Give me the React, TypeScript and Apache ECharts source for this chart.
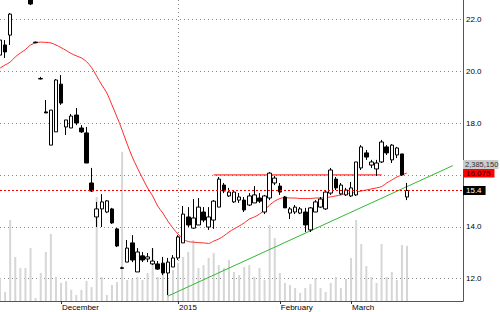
import { useEffect, useRef } from "react";
import * as echarts from "echarts";

// ---- data ----
const slotCount = 92; // trading-day slots on the category axis (last ones empty)
const categories: string[] = Array.from({ length: slotCount }, (_, i) => String(i));

const tickIndex = [12, 35, 55, 69];
const tickLabels = ["December", "2015", "February", "March"];

const open = [
  20.62, 21.01, 21.39, 22.9, 23.3, 23.5, 23.1, 21.1, 19.7, 18.43,
  17.15, 17.66, 19.5, 17.85, 17.81, 18.31, 17.81, 17.62, 15.69, 14.38,
  14.69, 14.57, 14.69, 13.92, 12.42, 12.64, 13.38, 12.26, 12.88, 12.76,
  12.57, 12.57, 12.6, 12.22, 12.45, 12.8, 13.38, 14.38, 13.95, 14.07,
  14.57, 13.99, 14.26, 14.76, 15.61, 15.19, 14.96, 15.03, 15.03, 14.84,
  14.92, 15.11, 14.57, 15.11, 15.69, 15.57, 15.15, 14.53, 14.57, 14.53,
  14.57, 13.88, 14.57, 14.76, 14.69, 15.3, 15.84, 15.27, 15.23, 15.19,
  15.23, 16.27, 16.85, 16.38, 16.23, 16.5, 17.08, 16.58, 16.77, 16.81,
  15.15,
];
const close = [
  21.2, 20.74, 22.2, 23.3, 23.6, 23.2, 22.59, 21.12, 19.72, 18.39,
  18.5, 19.66, 18.77, 18.12, 18.27, 18.0, 17.66, 16.46, 15.38, 14.69,
  14.96, 15.0, 14.15, 13.26, 12.4, 13.18, 12.72, 13.03, 12.72, 12.84,
  12.68, 12.37, 12.22, 12.64, 12.8, 13.61, 14.49, 14.07, 14.34, 14.76,
  14.26, 14.38, 14.99, 15.84, 15.38, 15.34, 15.34, 15.15, 14.65, 15.19,
  15.23, 14.99, 15.19, 16.07, 15.88, 15.34, 14.73, 14.69, 14.76, 14.69,
  14.07, 14.73, 14.96, 15.07, 15.34, 16.19, 15.5, 15.61, 15.42, 15.5,
  16.5, 17.08, 16.69, 16.5, 16.46, 17.27, 16.85, 17.15, 17.04, 16.0,
  15.4,
];
const low = [
  20.51, 20.51, 21.01, 22.8, 23.1, 23.0, 22.55, 21.08, 19.68, 18.39,
  17.15, 17.66, 18.7, 17.54, 17.81, 17.92, 17.62, 16.46, 15.34, 13.99,
  13.99, 14.53, 14.11, 13.22, 12.38, 12.64, 12.64, 12.26, 12.64, 12.64,
  12.53, 12.34, 12.14, 11.37, 12.45, 12.72, 13.38, 13.99, 13.92, 14.07,
  14.18, 13.88, 13.92, 14.76, 15.3, 15.15, 14.92, 14.92, 14.57, 14.8,
  14.92, 14.92, 14.49, 15.03, 15.61, 15.23, 14.73, 14.3, 14.49, 14.49,
  13.8, 13.8, 14.57, 14.73, 14.65, 15.23, 15.42, 15.23, 15.19, 15.15,
  15.19, 16.19, 16.58, 16.27, 15.96, 16.46, 16.77, 16.46, 16.65, 15.96,
  15.03,
];
const high = [
  21.28, 21.2, 22.24, 23.5, 23.8, 23.7, 23.3, 21.14, 19.78, 18.89,
  18.5, 19.7, 19.85, 18.12, 18.35, 18.58, 17.92, 17.85, 16.27, 14.96,
  15.26, 15.03, 14.73, 13.95, 12.46, 13.49, 13.68, 13.18, 13.03, 12.99,
  13.18, 12.68, 12.84, 12.8, 12.91, 13.68, 14.8, 14.76, 15.07, 15.11,
  14.76, 14.76, 15.03, 15.92, 15.69, 15.5, 15.42, 15.3, 15.15, 15.3,
  15.57, 15.3, 15.23, 16.11, 15.96, 15.69, 15.19, 14.76, 14.84, 14.76,
  14.73, 14.76, 15.03, 15.15, 15.42, 16.27, 15.92, 15.69, 15.5, 15.73,
  16.5, 17.15, 16.96, 16.58, 16.58, 17.35, 17.15, 17.19, 17.08, 16.81,
  15.69,
];
const movingAvg = [
  20.12, 20.24, 20.35, 20.55, 20.7, 20.83, 21.01, 21.09, 21.12, 21.11,
  21.09, 21.01, 20.91, 20.8, 20.68, 20.59, 20.51, 20.37, 20.14, 19.81,
  19.47, 19.16, 18.7, 18.23, 17.73, 17.19, 16.69, 16.27, 15.88, 15.5,
  15.19, 14.8, 14.53, 14.22, 13.95, 13.72, 13.53, 13.43, 13.41, 13.39,
  13.38, 13.36, 13.45, 13.53, 13.65, 13.8, 13.92, 14.03, 14.15, 14.3,
  14.38, 14.49, 14.65, 14.84, 14.99, 15.09, 15.13, 15.11, 15.11, 15.09,
  15.09, 15.09, 15.11, 15.11, 15.13, 15.15, 15.19, 15.23, 15.27, 15.3,
  15.34, 15.38, 15.42, 15.46, 15.5, 15.55, 15.69, 15.8, 15.92, 16.0,
  16.075,
];
const volume = [
  1000000, 390000, 3500000, 1900000, 1430000, 1430000, 2290000, 130000, 1210000, 2120000,
  2890000, 1040000, 780000, 860000, 480000, 260000, 480000, 860000, 600000, 4490000,
  1040000, 260000, 690000, 820000, 6440000, 910000, 950000, 1040000, 910000, 1210000,
  2290000, 1040000, 1210000, 910000, 1340000, 1640000, 1900000, 2120000, 2630000, 1430000,
  1550000, 1860000, 2070000, 1550000, 1430000, 1770000, 1250000, 1120000, 1470000, 1550000,
  1040000, 1430000, 910000, 3280000, 2720000, 1210000, 780000, 690000, 560000, 350000,
  560000, 730000, 990000, 560000, 390000, 780000, 1040000, 560000, 950000, 1860000,
  3500000, 2460000, 1510000, 1040000, 780000, 2460000, 1040000, 1250000, 910000, 2420000,
  2385150,
];

// drawn lines (slot index, price)
const resistance = [
  [42, 16.0],
  [75, 16.0],
];
const trendline = [
  [33, 11.33],
  [89, 16.36],
];

const FONT = "'Liberation Sans', Arial, sans-serif";

export default function App() {
  const ref = useRef<HTMLDivElement>(null);

  useEffect(() => {
    if (!ref.current) return;
    const chart = echarts.init(ref.current, undefined, { renderer: "svg" });

    const candles = open.map((o, i) => [o, close[i], low[i], high[i]]);
    const lastClose = close[close.length - 1];
    const lastMa = movingAvg[movingAvg.length - 1];
    const lastVol = volume[volume.length - 1];
    const isTick = (i: number) => tickIndex.indexOf(i) >= 0;
    const yearIdx = tickIndex[tickLabels.indexOf("2015")];

    const endLabel = (text: string, bg: string, fg: string, size = 8, pad = [1, 4, 0, 3]) => ({
      show: true,
      position: "end",
      distance: 0,
      formatter: text,
      color: fg,
      backgroundColor: bg,
      padding: pad,
      fontSize: size,
      lineHeight: 8,
      fontFamily: FONT,
    });
    const hidden = { color: "rgba(0,0,0,0)", width: 0, type: "solid" };
    const toPts = (pts: number[][]) => pts.map((p) => [String(p[0]), p[1]]);

    chart.setOption({
      animation: false,
      backgroundColor: "#ffffff",
      grid: { left: 0, right: 37, top: 0, bottom: 11, containLabel: false },
      xAxis: {
        type: "category",
        data: categories,
        boundaryGap: false,
        axisLine: { show: true, lineStyle: { color: "#555", width: 1 } },
        axisTick: {
          show: true,
          interval: (i: number) => isTick(i),
          length: 3,
          lineStyle: { color: "#333" },
        },
        axisLabel: {
          interval: (i: number) => isTick(i),
          formatter: (v: string) => {
            const k = tickIndex.indexOf(Number(v));
            return k >= 0 ? tickLabels[k] : "";
          },
          align: "left",
          margin: 2,
          padding: [0, 0, 0, 1],
          fontSize: 8,
          color: "#000",
          fontFamily: FONT,
        },
        splitLine: {
          show: true,
          interval: (i: number) => i === yearIdx,
          lineStyle: { color: "#888", type: [1, 3], width: 1 },
        },
      },
      yAxis: [
        {
          type: "value",
          position: "right",
          min: 11.14,
          max: 22.744,
          splitNumber: 5,
          axisLine: { show: true, lineStyle: { color: "#555", width: 1 } },
          axisTick: { show: false },
          axisLabel: {
            showMinLabel: false,
            showMaxLabel: false,
            formatter: (v: number) =>
              Math.abs(v - 16) < 1e-6 ? "" : v.toFixed(1),
            margin: 3,
            fontSize: 8,
            color: "#000",
            fontFamily: FONT,
          },
          splitLine: {
            show: true,
            showMinLine: false,
            showMaxLine: false,
            lineStyle: { color: "#888", type: [1, 3], width: 1 },
          },
        },
        {
          type: "value",
          min: 0,
          max: 13000000,
          show: false,
          splitLine: { show: false },
        },
      ],
      series: [
        {
          name: "Volume",
          type: "bar",
          yAxisIndex: 1,
          data: volume,
          barWidth: 2,
          itemStyle: { color: "#d6d6d6" },
          silent: true,
          z: 1,
        },
        {
          name: "Resistance",
          type: "line",
          data: toPts(resistance),
          symbol: "none",
          silent: true,
          lineStyle: { color: "#ff0000", width: 1, type: "solid" },
          z: 2,
        },
        {
          name: "Trend",
          type: "line",
          data: toPts(trendline),
          symbol: "none",
          silent: true,
          lineStyle: { color: "#33b833", width: 1, type: "solid" },
          z: 2,
        },
        {
          name: "MA",
          type: "line",
          data: movingAvg,
          symbol: "none",
          smooth: 0.3,
          lineStyle: { color: "#ff2a2a", width: 1 },
          z: 3,
          markLine: {
            symbol: "none",
            silent: true,
            animation: false,
            data: [
              {
                yAxis: lastClose,
                lineStyle: { color: "#ff0000", type: [2, 2], width: 1 },
                label: endLabel(lastClose.toFixed(1), "#000000", "#ffffff"),
              },
              {
                yAxis: lastMa,
                lineStyle: hidden,
                label: endLabel(lastMa.toFixed(3), "#ff0000", "#000000"),
              },
              {
                yAxis: 16.4,
                lineStyle: hidden,
                label: endLabel(
                  lastVol.toLocaleString("en-US"),
                  "#cccccc",
                  "#333333",
                  7.5,
                  [1, 0, 0, 2]
                ),
              },
            ],
          },
        },
        {
          name: "Price",
          type: "candlestick",
          data: candles,
          barWidth: 4,
          itemStyle: {
            color: "#ffffff",
            color0: "#000000",
            borderColor: "#000000",
            borderColor0: "#000000",
            borderColorDoji: "#000000",
            borderWidth: 1,
          },
          z: 4,
        },
      ],
    });

    return () => chart.dispose();
  }, []);

  return (
    <div
      ref={ref}
      style={{
        position: "absolute",
        left: 0,
        top: 0,
        width: 500,
        height: 312,
        background: "#fff",
      }}
    />
  );
}
